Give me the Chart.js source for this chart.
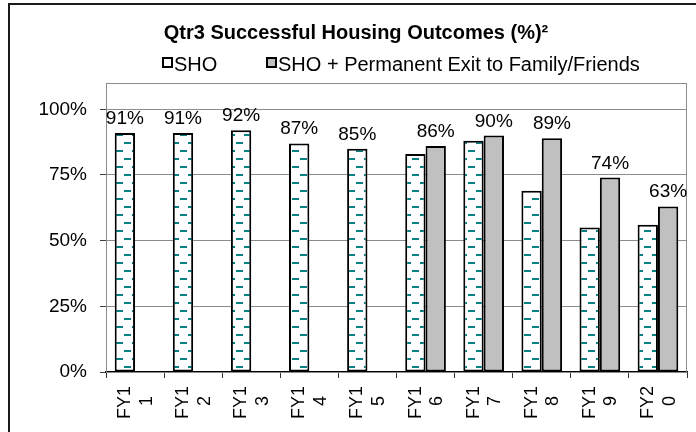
<!DOCTYPE html>
<html>
<head>
<meta charset="utf-8">
<script src="https://cdn.jsdelivr.net/npm/chart.js@4.4.1/dist/chart.umd.min.js"></script>
<style>
  html, body { margin: 0; padding: 0; background: #fff; }
  #wrap { width: 696px; height: 432px; }
</style>
</head>
<body>
<div id="wrap"><canvas id="outcomes"></canvas></div>
<script>
// second line padded so it sits centred under the first once rotated
const fiscalYears = [['FY1', '1  '], ['FY1', '2  '], ['FY1', '3  '], ['FY1', '4  '], ['FY1', '5  '],
  ['FY1', '6  '], ['FY1', '7  '], ['FY1', '8  '], ['FY1', '9  '], ['FY2', '0  ']]
const shoPct = [91, 91, 92, 87, 85, 83, 88, 69, 55, 56]
const shoFamilyPct = [null, null, null, null, null, 86, 90, 89, 74, 63]
const yTicks = [0, 25, 50, 75, 100]
const seriesNames = ['SHO', 'SHO + Permanent Exit to Family/Friends']
const chartTitle = 'Qtr3 Successful Housing Outcomes (%)²'

const FONT = "'Liberation Sans', Arial, sans-serif"
const TEAL = '#008080'
const GREY = '#c0c0c0'

// white fill with staggered teal dashes, like the excel pattern fill
function dashPattern() {
  const c = document.createElement('canvas')
  c.width = 16
  c.height = 16
  const g = c.getContext('2d')
  g.fillStyle = '#fff'
  g.fillRect(0, 0, 16, 16)
  g.fillStyle = TEAL
  g.fillRect(12, 14, 4, 2)
  g.fillRect(0, 14, 3, 2)
  g.fillRect(4, 6, 7, 2)
  return g.createPattern(c, 'repeat')
}

const ctx = document.getElementById('outcomes')
const pattern = dashPattern()

const decorations = {
  id: 'decorations',
  beforeDraw(chart) {
    const g = chart.ctx
    g.save()
    g.strokeStyle = '#1a1a1a'
    g.lineWidth = 2
    g.strokeRect(9, 4, 800, 800)
    g.restore()
  },
  beforeDatasetsDraw(chart) {
    const {left, top, right, bottom} = chart.chartArea
    const g = chart.ctx
    g.save()
    g.strokeStyle = '#8c8c8c'
    g.lineWidth = 1
    g.strokeRect(left + 0.5, top + 0.5, right - left - 1, bottom - top)
    g.restore()
  },
  afterDatasetsDraw(chart) {
    const g = chart.ctx
    g.save()
    g.font = '19px ' + FONT
    g.fillStyle = '#000'
    g.textAlign = 'center'
    g.textBaseline = 'alphabetic'
    fiscalYears.forEach((fy, i) => {
      const ds = shoFamilyPct[i] != null ? 1 : 0
      const bar = chart.getDatasetMeta(ds).data[i]
      const v = ds ? shoFamilyPct[i] : shoPct[i]
      g.fillText(v + '%', bar.x, bar.y - 9)
    })
    g.restore()
  },
  afterDraw(chart) {
    const g = chart.ctx
    g.save()
    g.fillStyle = '#000'
    g.textBaseline = 'alphabetic'
    g.font = 'bold 20px ' + FONT
    g.textAlign = 'center'
    g.fillText(chartTitle, 356, 39)

    g.font = '20px ' + FONT
    g.textAlign = 'left'
    g.lineWidth = 2
    g.strokeStyle = '#000'
    const boxes = [{x: 163, fill: '#fff'}, {x: 267, fill: GREY}]
    boxes.forEach((b, i) => {
      g.fillStyle = b.fill
      g.fillRect(b.x, 58, 9, 9)
      g.strokeRect(b.x, 58, 9, 9)
      g.fillStyle = '#000'
      g.fillText(seriesNames[i], b.x + 11, 71)
    })
    g.restore()
  },
}

new Chart(ctx, {
  type: 'bar',
  data: {
    labels: fiscalYears,
    datasets: [{
      label: seriesNames[0],
      data: shoPct,
      backgroundColor: pattern,
      borderColor: '#000',
      borderWidth: 2,
      borderSkipped: false,
    }, {
      label: seriesNames[1],
      data: shoFamilyPct,
      backgroundColor: GREY,
      borderColor: '#000',
      borderWidth: 2,
      borderSkipped: false,
    }],
  },
  options: {
    responsive: true,
    maintainAspectRatio: false,
    animation: false,
    datasets: {bar: {categoryPercentage: 0.7, barPercentage: 1}},
    layout: {padding: {top: 83, left: 0, right: 9, bottom: 0}},
    plugins: {
      legend: {display: false},
      title: {display: false},
      tooltip: {enabled: false},
    },
    scales: {
      x: {
        afterFit: (s) => {
          s.height = 60
          s.paddingLeft = 0
          s.paddingRight = 0
        },
        grid: {display: true, drawOnChartArea: false, tickLength: 6, tickColor: '#333', offset: true},
        border: {color: '#000', width: 1.5},
        ticks: {
          color: '#000',
          font: {family: FONT, size: 18},
          minRotation: 90,
          maxRotation: 90,
          padding: 8,
          labelOffset: -10,
          autoSkip: false,
        },
      },
      y: {
        min: 0,
        max: 110,
        afterFit: (s) => { s.width = 106 },
        afterBuildTicks: (s) => { s.ticks = yTicks.map((v) => ({value: v})) },
        grid: {color: '#8c8c8c', tickLength: 6, tickColor: '#404040'},
        border: {color: '#8c8c8c'},
        ticks: {
          color: '#000',
          font: {family: FONT, size: 19},
          padding: 13,
          callback: (v) => v + '%',
        },
      },
    },
  },
  plugins: [decorations],
})
</script>
</body>
</html>
